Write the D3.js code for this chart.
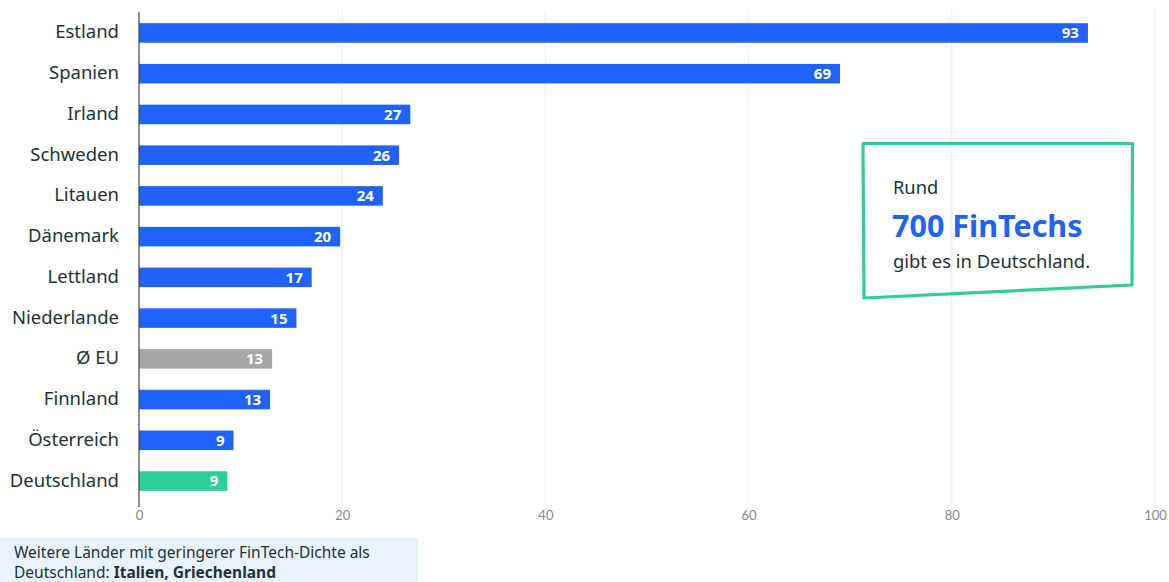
<!DOCTYPE html>
<html><head><meta charset="utf-8">
<script src="https://cdn.jsdelivr.net/npm/d3@7"></script>
<style>
html,body{margin:0;padding:0;background:#fff;}
svg{display:block;}
</style></head>
<body>
<svg id="chart" width="1169" height="582"></svg>
<script>
const categories = ["Estland","Spanien","Irland","Schweden","Litauen","Dänemark","Lettland","Niederlande","Ø EU","Finnland","Österreich","Deutschland"];
const values = [93.4, 69, 26.7, 25.6, 24, 19.8, 17, 15.5, 13.1, 12.9, 9.3, 8.7];
const labels = ["93","69","27","26","24","20","17","15","13","13","9","9"];
const barKinds = ["land","land","land","land","land","land","land","land","eu","land","land","de"];
const xTicks = [0,20,40,60,80,100];
const boxLines = ["Rund","700 FinTechs","gibt es in Deutschland."];
const noteLines = [["Weitere Länder mit geringerer FinTech-Dichte als"],["Deutschland: ","Italien, Griechenland"]];

const colors = {land:"#1f63fa", eu:"#a6a6a6", de:"#2bd098"};
const font = "'Noto Sans', 'Open Sans', sans-serif";

const svg = d3.select("#chart");
const x = d3.scaleLinear().domain([0,100]).range([139,1155]);
const y = d3.scaleBand().domain(categories).range([12.6, 501.4]).paddingInner(0.52).paddingOuter(0.26);

// gridlines
svg.append("g").selectAll("line").data(xTicks.slice(1)).join("line")
  .attr("x1", d=>x(d)).attr("x2", d=>x(d)).attr("y1", 10).attr("y2", 505)
  .attr("stroke", "#ececec").attr("stroke-width", 1);

// axis tick labels
const xAxis = d3.axisBottom(x).tickValues(xTicks).tickSize(0).tickPadding(0);
const gx = svg.append("g").attr("transform","translate(0,511)").call(xAxis);
gx.select(".domain").remove();
gx.selectAll("text").attr("font-family","Lato, sans-serif").attr("font-size",13).attr("fill","#8a8a8a").attr("dy","0.71em");

// bars
svg.append("g").selectAll("rect").data(categories).join("rect")
  .attr("x", x(0)).attr("y", (d)=>y(d))
  .attr("width", (d,i)=>x(values[i])-x(0)).attr("height", y.bandwidth())
  .attr("fill", (d,i)=>colors[barKinds[i]]);

// value labels
svg.append("g").selectAll("text").data(categories).join("text")
  .attr("x", (d,i)=>x(values[i])-9).attr("y", d=>y(d)+y.bandwidth()/2)
  .attr("dy","0.36em").attr("text-anchor","end")
  .attr("font-family",font).attr("font-weight",700).attr("font-size",15).attr("fill","#fff")
  .text((d,i)=>labels[i]);

// category labels
svg.append("g").selectAll("text").data(categories).join("text")
  .attr("x", 119).attr("y", d=>y(d)+y.bandwidth()/2 - 1)
  .attr("dy","0.35em").attr("text-anchor","end")
  .attr("font-family",font).attr("font-size",18.5).attr("fill","#1d3338")
  .text(d=>d);

// y axis line
svg.append("line").attr("x1",x(0)).attr("x2",x(0)).attr("y1",12).attr("y2",507)
  .attr("stroke","#3a4448").attr("stroke-width",1.2);

// callout box
svg.append("path")
  .attr("d","M863,143.5 L1132.5,143.5 L1132,285 L864,298 Z")
  .attr("fill","none").attr("stroke","#2ecf96").attr("stroke-width",3.2).attr("stroke-linejoin","round");
svg.append("text").attr("x",893).attr("y",194).attr("font-family",font).attr("font-size",18.3).attr("fill","#1d3338").text(boxLines[0]);
svg.append("text").attr("x",892).attr("y",237).attr("font-family",font).attr("font-weight",700).attr("font-size",30.5).attr("fill","#1f63fa").text(boxLines[1]);
svg.append("text").attr("x",893).attr("y",268).attr("font-family",font).attr("font-size",18.4).attr("fill","#1d3338").text(boxLines[2]);

// footnote
svg.append("rect").attr("x",0).attr("y",538).attr("width",418).attr("height",44).attr("fill","#e8f3fd");
const t1 = svg.append("text").attr("x",14).attr("y",558).attr("font-family",font).attr("font-size",15.5).attr("fill","#1d3338");
t1.text(noteLines[0][0]);
const t2 = svg.append("text").attr("x",14).attr("y",578).attr("font-family",font).attr("font-size",15.5).attr("fill","#1d3338");
t2.append("tspan").text(noteLines[1][0]);
t2.append("tspan").attr("font-weight",700).text(noteLines[1][1]);
</script>
</body></html>
